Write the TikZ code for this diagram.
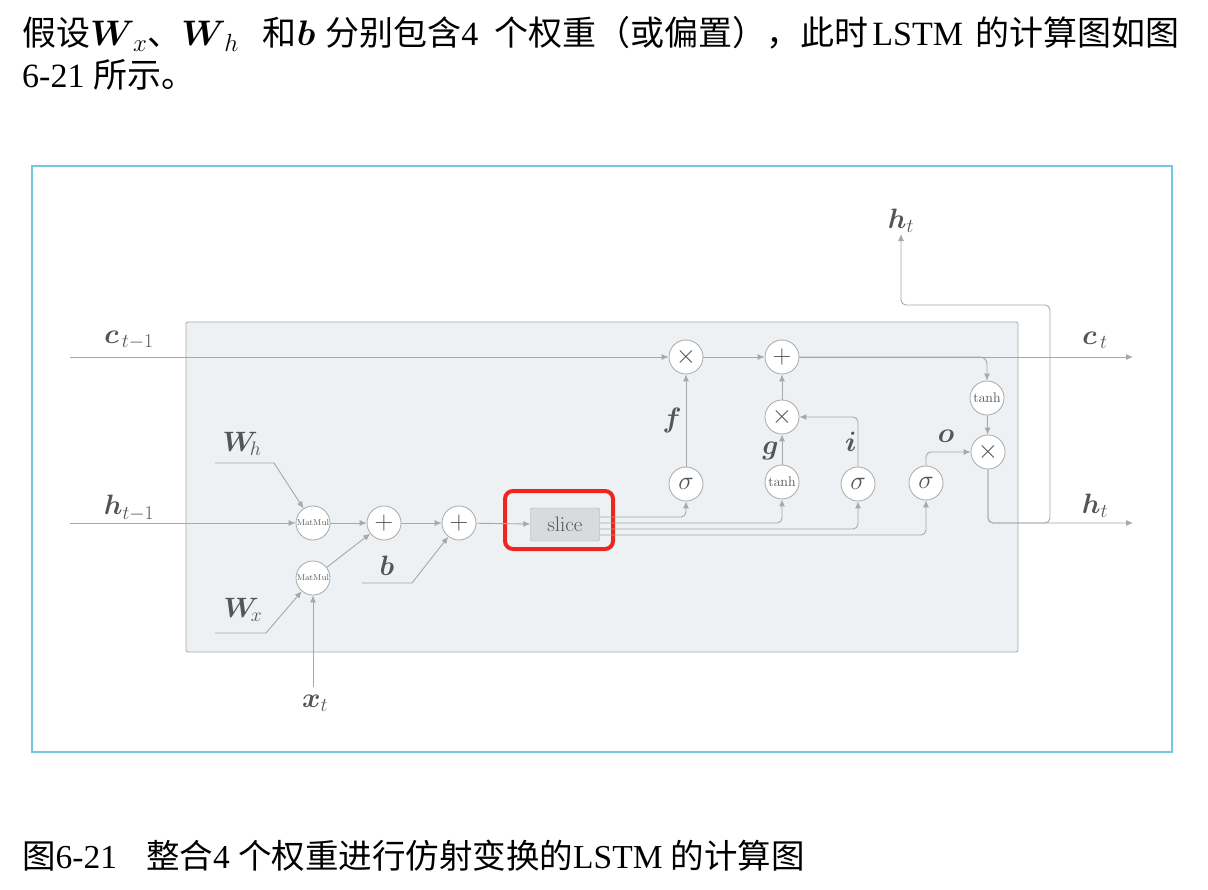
\RequirePackage{fix-cm}
\documentclass[tikz,border=0pt]{standalone}
\usepackage{amsmath}
\usepackage{bm}
\usepackage[no-math]{fontspec}
\setmainfont{Liberation Serif}
\newfontfamily\cjk{Noto Sans CJK SC}
\newcommand{\zh}[1]{{\cjk #1}}
\newcommand{\wm}[1]{{\fontsize{35.5}{40}\selectfont$#1$}}
\usetikzlibrary{arrows.meta, positioning, calc}
\definecolor{mygray}{RGB}{168,168,168}
\definecolor{mytext}{RGB}{85,85,85}
\definecolor{myback}{RGB}{237,241,243}
\definecolor{myframe}{RGB}{115,200,222}
\definecolor{myslice}{RGB}{216,219,221}
\definecolor{myred}{RGB}{238,38,30}
\tikzset{
  op/.style={circle, draw=mygray, fill=white, minimum size=34pt,
    inner sep=0pt, text=mytext, line width=0.8pt, font=\fontsize{26}{26}\selectfont},
  opsmall/.style={op, font=\fontsize{8.5}{8.5}\selectfont},
  optanh/.style={op, font=\fontsize{14}{14}\selectfont},
  var/.style={text=mytext, font=\fontsize{28}{28}\selectfont, inner sep=1pt},
  arrow/.style={-{Latex[length=7pt, width=6pt]}, color=mygray, line width=0.9pt},
  line/.style={color=mygray, line width=0.9pt}
}

\begin{document}
\begin{tikzpicture}[x=1pt, y=-1pt]
  \useasboundingbox (0,0) rectangle (1208,890);
  \fill[white] (0,0) rectangle (1208,890);

  % Text above and caption
  \node[anchor=base west, inner sep=0pt, font=\fontsize{34}{40}\selectfont] (line1) at (22,46)
    {\zh{假设}\wm{\boldsymbol{W}_{\,x}}\zh{、}\wm{\boldsymbol{W}_{\,h}}\hspace{24pt}\zh{和}\wm{\boldsymbol{b}}\hspace{10pt}\zh{分别包含}4\hspace{16pt}\zh{个权重（或偏置），此时}\hspace{4pt}LSTM\hspace{12pt}\zh{的计算图如图}};
  \node[anchor=base west, inner sep=0pt, font=\fontsize{34}{40}\selectfont] (line2) at (22,88)
    {6-21 \zh{所示。}};
  \node[anchor=base west, inner sep=0pt, font=\fontsize{33.5}{40}\selectfont] (caption) at (22,868)
    {\zh{图}6-21\hspace{29pt}\zh{整合}4 \zh{个权重进行仿射变换的}LSTM \zh{的计算图}};

  % Frames
  \draw[myframe, line width=1.2pt] (32,166) rectangle (1172,752);
  \draw[mygray, fill=myback, line width=0.8pt, rounded corners=2pt] (186,322) rectangle (1018,652);

  % Inputs
  \coordinate (cin) at (70,357);
  \coordinate (hin) at (70,523);
  \node[var] (lcin) at (129,340) {$\boldsymbol{c}_{\,t-1}$};
  \node[var] (lhin) at (129,508) {$\boldsymbol{h}_{t-1}$};
  \node[var] (lwh) at (242,444) {$\boldsymbol{W}_{\!h}$};
  \node[var] (lwx) at (243,610) {$\boldsymbol{W}_{\!x}$};
  \node[var] (lb) at (387,566) {$\boldsymbol{b}$};
  \node[var] (lxt) at (315,703) {$\boldsymbol{x}_t$};
  \coordinate (whs) at (215,463);
  \coordinate (whk) at (274,463);
  \coordinate (wxs) at (215,633);
  \coordinate (wxk) at (266,633);
  \coordinate (bs) at (362,583);
  \coordinate (bk) at (412,583);
  \coordinate (xts) at (313,687);

  % Affine part
  \node[opsmall] (mmh) at (313,523) {$\mathrm{MatMul}$};
  \node[opsmall] (mmx) at (313,578) {$\mathrm{MatMul}$};
  \node[op] (add1) at (384,523) {$+$};
  \node[op] (add2) at (459,523) {$+$};
  \node[rectangle, draw=mygray, fill=myslice, rounded corners=2pt, minimum width=69pt,
    minimum height=33pt, inner sep=0pt, text=mytext, font=\fontsize{21}{21}\selectfont]
    (slice) at (565,524.5) {$\mathrm{slice}$};
  \draw[myred, line width=4pt, rounded corners=8pt] (505,491) rectangle (613,549);

  % Gates
  \node[op] (sf) at (686,484) {$\sigma$};
  \node[optanh] (tg) at (782,482) {$\tanh$};
  \node[op] (si) at (858,484) {$\sigma$};
  \node[op] (so) at (926,483) {$\sigma$};
  \node[op] (mf) at (686,357) {$\times$};
  \node[op] (ac) at (782,357) {$+$};
  \node[op] (mg) at (782,417) {$\times$};
  \node[optanh] (tc) at (987,398) {$\tanh$};
  \node[op] (mo) at (988,452) {$\times$};

  % Outputs
  \coordinate (cout) at (1133,357);
  \coordinate (hout) at (1133,523);
  \coordinate (hbr) at (1050,523);
  \coordinate (hturn) at (1050,305);
  \node[var] (lcout) at (1095,340) {$\boldsymbol{c}_{\,t}$};
  \node[var] (lhout) at (1095,506) {$\boldsymbol{h}_t$};
  \node[var] (lhup) at (901,221) {$\boldsymbol{h}_t$};

  % Connections: affine part
  \draw[arrow] (hin) -- (mmh);
  \draw[arrow] (whs) -- (whk) -- (mmh);
  \draw[arrow] (wxs) -- (wxk) -- (mmx);
  \draw[arrow] (xts) -- (mmx);
  \draw[arrow] (mmh) -- (add1);
  \draw[arrow] (mmx) -- (add1);
  \draw[arrow] (add1) -- (add2);
  \draw[arrow] (bs) -- (bk) -- (add2);
  \draw[arrow] (add2) -- (slice);

  % Connections: slice to gates
  \draw[arrow, rounded corners=5pt] ($(slice.east)+(0,-7.5)$) -| (sf);
  \draw[arrow, rounded corners=5pt] ($(slice.east)+(0,-1.5)$) -| (tg);
  \draw[arrow, rounded corners=5pt] ($(slice.east)+(0,4.5)$) -| (si);
  \draw[arrow, rounded corners=5pt] ($(slice.east)+(0,10.5)$) -| (so);

  % Connections: cell state
  \draw[arrow] (cin) -- (mf);
  \draw[arrow] (sf) -- node[var, left=3pt, pos=0.5] (lf) {$\boldsymbol{f}$} (mf);
  \draw[arrow] (tg) -- node[var, left=2pt, pos=0.45] (lg) {$\boldsymbol{g}$} (mg);
  \draw[arrow, rounded corners=5pt] (si) |- node[var, pos=0.25, left=0pt] (li) {$\boldsymbol{i}$} (mg);
  \draw[arrow] (mg) -- (ac);
  \draw[arrow] (mf) -- (ac);
  \draw[arrow] (ac) -- (cout);
  \draw[arrow, rounded corners=7pt] (ac) -| (tc);

  % Connections: hidden state
  \draw[arrow] (tc) -- (mo);
  \draw[arrow, rounded corners=5pt] (so) |- (mo);
  \node[var] (lo) at (946,436) {$\boldsymbol{o}$};
  \draw[arrow, rounded corners=5pt] (mo) |- (hout);
  \draw[arrow, rounded corners=5pt] (mo) |- (hbr) -- (hturn) -| (lhup);
\end{tikzpicture}
\end{document}
